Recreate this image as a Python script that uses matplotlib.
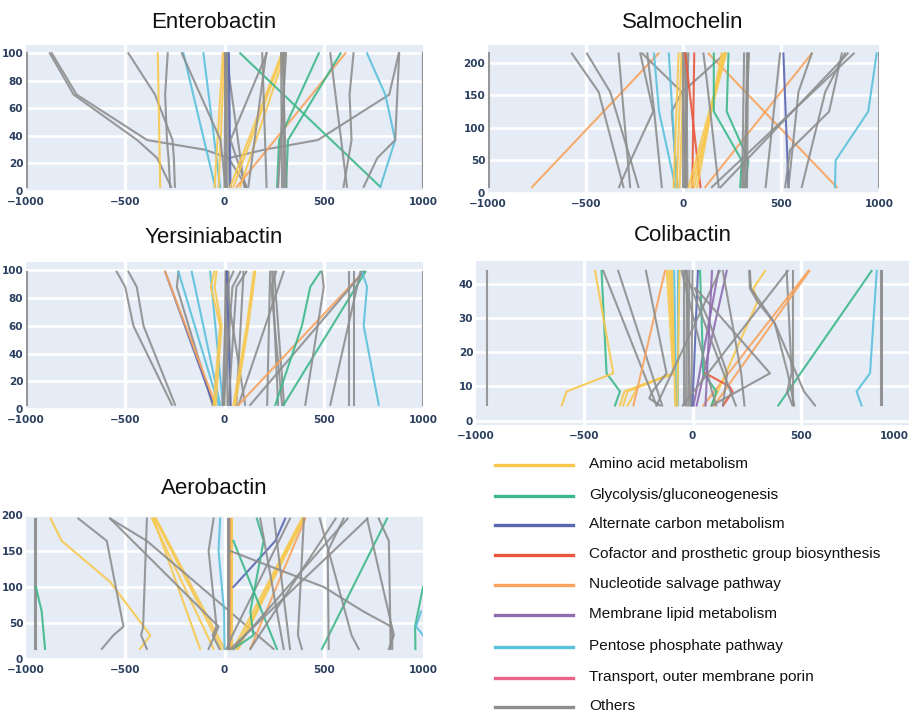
import matplotlib
matplotlib.use("Agg")
import matplotlib.pyplot as plt
from matplotlib.lines import Line2D

W, H = 919, 714

colors = {
    "A": "#F8C84E",  # amino acid
    "G": "#3DB88A",  # glycolysis
    "C": "#5B67B1",  # alternate carbon
    "F": "#EA573D",  # cofactor
    "N": "#F9A45E",  # nucleotide
    "M": "#8F6BB0",  # membrane lipid
    "P": "#5BC1DB",  # pentose phosphate
    "T": "#EB6589",  # transport
    "O": "#8E8E8E",  # others
}
legend_keys = ["A", "G", "C", "F", "N", "M", "P", "T", "O"]
legend_labels = ["Amino acid metabolism", "Glycolysis/gluconeogenesis",
                 "Alternate carbon metabolism", "Cofactor and prosthetic group biosynthesis",
                 "Nucleotide salvage pathway", "Membrane lipid metabolism",
                 "Pentose phosphate pathway", "Transport, outer membrane porin", "Others"]

_ = None

# Enterobactin
ent_y = [3, 24, 30, 37, 70, 100]
ent_cat = ["O", "O", "O", "O", "O", "O", "O", "A", "P", "P", "A", "A", "O", "O", "O", "O", "C",
           "O", "A", "A", "A", "N", "G", "G", "G", "O", "O", "O", "O", "P", "O", "O", "O",
           "O", "O", "O", "O", "O"]
ent_x = [
    [-997, _, _, _, _, -997], [1000, _, _, _, _, 1000],
    [-269, -340, _, -440, -760, -880], [110, 20, -100, -390, -745, -870],
    [_, 25, 200, 470, 830, 878], [-250, -255, _, -262, -350, -484],
    [-274, -282, _, -290, -299, -286], [-324, _, _, _, _, -336],
    [-47, _, _, _, _, -207], [-22, _, _, _, _, -106],
    [-50, _, _, _, _, -8], [-30, _, _, _, _, 0],
    [0, _, _, _, _, 5], [12, _, _, _, _, 10], [25, _, _, _, _, 15], [100, _, _, _, _, 8],
    [30, _, _, _, _, 22], [110, _, _, 30, _, 213],
    [29, _, _, _, _, 289], [79, _, _, _, _, 306], [45, _, _, _, _, 295],
    [62, _, _, _, _, 609], [785, _, _, _, _, 79],
    [265, _, _, 275, _, 475], [310, _, _, 320, _, 585],
    [290, _, _, _, _, 285], [300, _, _, _, _, 300], [312, _, _, _, _, 292], [270, _, _, _, _, 310],
    [785, _, _, 860, 810, 718], [600, _, _, 640, 630, 650], [617, _, _, _, _, 533],
    [701, 770, _, 860, _, 880], [212, _, _, _, _, 190], [5, _, _, -20, _, -215],
    [120, _, _, _, _, 210], [8, _, _, _, _, 2], [1000, _, _, _, 1000, 1000],
]

# Salmochelin
sal_y = [9, 37, 50, 66, 100, 125, 155, 171, 214]
sal_cat = ["O", "O", "N", "N", "N", "O", "O", "O", "O", "O", "O", "O", "P", "P", "A", "A", "A",
           "O", "O", "O", "O", "F", "F", "A", "A", "A", "A", "G", "G", "O", "O", "O", "O", "O",
           "O", "C", "O", "O", "O", "O", "P", "O"]
sal_x = [
    [-997, _, _, _, _, _, _, _, -997], [1000, _, _, _, _, _, _, _, 1000],
    [-775, _, _, _, _, _, _, _, -128], [784, _, _, _, _, _, _, _, 128],
    [111, _, _, _, _, _, _, _, 656],
    [-307, _, _, _, _, _, -434, _, -571], [-230, _, -270, _, _, _, -375, _, -494],
    [-273, _, _, _, _, _, _, _, -332], [-330, _, -270, _, _, -155, _, _, -221],
    [-111, _, _, _, _, -150, _, _, -185], [-30, _, _, _, _, -60, -9, _, -211],
    [15, _, _, _, _, _, -5, _, 213],
    [-41, _, _, _, _, -125, _, _, -151], [-34, _, _, _, _, _, _, _, -75],
    [-51, _, _, _, _, _, _, _, -25], [-35, _, _, _, _, _, _, _, -10], [-20, _, _, _, _, _, _, _, 5],
    [0, _, _, _, _, _, _, _, 0], [10, _, _, _, _, _, _, _, 8], [20, _, _, _, _, _, _, _, 15],
    [5, _, _, _, _, _, _, _, 25],
    [87, _, _, _, _, _, _, _, 9], [45, _, _, _, _, _, _, _, 55],
    [26, _, _, _, _, _, _, _, 213], [40, _, _, _, _, _, _, _, 218],
    [70, _, _, _, _, _, _, _, 195], [55, _, _, _, _, _, _, _, 205],
    [290, _, 298, _, _, 155, _, _, 155], [315, _, 332, _, _, 221, _, _, 230],
    [300, _, _, _, _, _, _, _, 310], [315, _, _, _, _, _, _, _, 325],
    [325, _, _, _, _, _, _, _, 330], [305, _, _, _, _, _, _, _, 335],
    [180, _, _, _, _, _, _, 120, 102],
    [420, _, _, _, _, _, _, _, 494], [537, _, _, _, _, _, _, _, 511],
    [537, _, _, _, _, _, 588, _, 656], [520, _, _, 545, _, 745, _, _, 810],
    [605, _, _, _, _, _, 725, _, 826], [145, _, _, _, _, _, _, _, 871],
    [775, _, 778, _, _, 945, _, _, 988], [190, _, _, _, _, _, _, _, 840],
]

# Yersiniabactin
yer_y = [3, 60, 88, 99]
yer_cat = ["O", "O", "O", "O", "O", "C", "N", "P", "P", "P", "A", "A", "O", "O", "O", "O", "C",
           "O", "O", "A", "A", "O", "O", "O", "O", "O", "N", "O", "G", "G", "P", "O", "O", "O",
           "O", "O", "O"]
yer_x = [
    [-997, _, _, -997], [1000, _, _, 1000],
    [-265, -459, -500, -543], [-249, -408, -442, -484], [-60, _, -240, -232],
    [-55, _, _, -299], [-45, _, _, -299], [-30, _, _, -232], [-22, _, _, -165], [-8, _, _, -72],
    [-55, -22, -69, -52], [-45, -15, -50, -40],
    [0, _, _, 5], [15, _, _, 8], [30, _, _, 20], [-10, _, _, 12], [30, _, _, 12],
    [104, _, 10, 45], [60, _, _, 96],
    [54, 120, _, 155], [45, 112, _, 148],
    [71, _, _, 298], [215, _, _, 230], [300, _, _, 250], [270, _, _, 240], [290, _, 235, 260],
    [71, _, _, 701], [130, _, _, 701],
    [256, 390, 432, 483], [298, _, _, 710], [777, 701, 718, 693],
    [407, _, 500, 491], [625, _, _, 625], [651, _, _, 651], [533, _, _, 685],
    [20, _, 60, 110], [-5, _, 40, 80],
]

# Colibactin
col_y = [4.4, 6.5, 8.5, 10, 13.8, 20, 28.4, 34.7, 38.6, 43.7]
col_cat = ["O", "O", "O", "P", "G", "O", "O", "N", "N", "A", "O", "O", "G", "A", "A", "A", "A",
           "O", "O", "N", "O", "P", "P", "O", "O", "O", "O", "O", "A", "A", "M", "M", "C", "G",
           "F", "O", "O", "O", "O", "O", "O", "M", "O"]
col_x = [
    [-948, _, _, _, _, _, _, _, _, -948], [877, _, _, _, _, _, _, _, _, 877],
    [872, _, _, _, _, _, _, _, _, 872],
    [781, _, 758, _, 820, _, _, _, _, 851], [396, _, _, _, _, _, _, _, _, 827],
    [466, _, _, _, _, _, _, _, _, 466], [462, _, 437, _, 458, _, _, _, _, 435],
    [50, _, _, _, _, _, _, _, _, 535], [100, _, _, _, _, _, _, _, _, 540],
    [88, _, _, _, _, _, _, 300, 281, 335],
    [566, _, 515, _, _, _, 380, _, 270, 265], [470, _, _, _, 440, _, 380, 300, 265, 262],
    [-358, _, -335, _, -397, _, _, _, _, -420],
    [-604, _, -581, _, -366, _, _, _, _, -450],
    [-335, _, -315, _, -89, _, _, _, _, -119],
    [-320, _, -300, _, -85, _, _, _, _, -100],
    [-300, _, _, -250, -80, _, _, _, _, -110],
    [-166, _, _, _, _, _, _, _, _, -412], [-140, _, _, _, _, _, _, _, _, -343],
    [-273, _, _, _, _, _, _, _, _, -127],
    [-150, -200, -185, _, -120, _, _, _, _, -215],
    [-66, _, _, _, _, _, _, _, _, -66], [-75, _, _, _, _, _, _, _, _, -85],
    [-40, _, _, _, _, _, _, _, _, -40], [-30, _, _, _, _, _, _, _, _, -25],
    [-20, _, _, _, _, _, _, _, _, -15], [-10, _, _, _, _, _, _, _, _, -30],
    [-5, _, _, _, _, _, _, _, _, 0],
    [-80, _, _, _, _, _, _, _, _, -95], [-70, _, _, _, _, _, _, _, _, -60],
    [19, _, _, _, _, _, _, _, _, 158], [5, _, _, _, _, _, _, _, _, 120],
    [0, _, _, _, _, _, _, _, _, 25],
    [88, _, 111, _, 50, _, _, _, _, 35],
    [142, _, 185, 170, 60, _, _, _, _, _],
    [90, _, _, _, 358, _, _, _, 15, _],
    [240, _, _, _, 225, _, _, _, _, 140],
    [-166, _, _, _, _, _, _, _, _, 126],
    [140, _, _, _, 160, _, 80, _, 10, _],
    [200, _, _, _, _, _, _, _, _, -35], [110, _, 90, _, _, _, _, _, _, -50],
    [60, _, _, _, _, _, _, _, _, 90], [-45, _, _, _, _, _, _, _, _, 440],
]

# Aerobactin
aer_y = [14, 33, 45, 66, 100, 107, 150, 164, 195]
aer_cat = ["O", "O", "G", "A", "O", "O", "A", "A", "A", "A", "O", "O", "O", "P", "O", "O", "O",
           "O", "N", "A", "A", "N", "A", "A", "O", "C", "G", "G", "G", "O", "O", "O", "O", "G",
           "P", "O", "O", "O", "O", "O", "O", "O"]
aer_x = [
    [-955, _, _, _, _, _, _, _, -955], [-948, _, _, _, _, _, _, _, -948],
    [-904, _, _, -921, -950, _, _, _, _],
    [-425, -374, _, _, _, -576, _, -820, -876],
    [-618, -560, -509, _, _, _, _, -593, -736],
    [-391, -420, -410, _, _, _, _, _, -391],
    [-123, _, _, _, _, _, _, _, -358], [-55, _, _, _, _, _, _, _, -365],
    [-15, _, _, _, _, _, _, _, -350], [0, _, _, _, _, _, _, _, -345],
    [247, _, _, _, _, _, _, -391, -576], [-80, _, -30, _, _, _, _, _, -576],
    [-25, -60, -40, _, _, _, -80, _, -55],
    [0, _, _, -2, _, _, -30, _, -22],
    [20, _, _, _, _, _, _, _, 20], [25, _, _, _, _, _, _, _, 25],
    [30, _, _, _, _, _, _, _, 30], [35, _, _, _, _, _, _, _, 35],
    [32, _, _, _, _, _, _, _, 32], [38, _, _, _, _, _, _, _, 38],
    [45, _, _, _, _, _, _, _, 390], [130, _, _, _, _, _, _, _, 407],
    [70, _, _, _, _, _, _, _, 400], [60, _, _, _, _, _, _, _, 395],
    [10, 40, _, _, _, _, _, _, 330],
    [_, _, _, _, 45, _, _, 256, 306],
    [264, _, _, _, _, _, _, 45, _],
    [45, 146, _, 130, _, _, _, 197, 163],
    [491, _, _, _, _, _, _, _, 819],
    [836, 836, _, _, _, _, _, 828, 777], [828, 853, _, _, _, _, _, _, 718],
    [525, _, _, _, _, _, 520, _, 600],
    [845, 845, 840, 700, 500, _, 30, _, _],
    [962, _, 960, _, 1000, _, _, _, _],
    [_, 1000, 965, 990, _, _, _, _, _],
    [676, 640, _, _, _, _, _, _, 480], [390, 370, _, _, _, _, _, _, 400],
    [298, _, _, _, _, _, _, _, 180], [330, _, _, _, _, _, _, _, 250],
    [130, _, _, _, _, _, _, _, 560], [45, _, _, _, _, _, _, _, 620],
    [30, _, _, _, _, _, _, _, 720],
]

panels = [
    # title, ys, cats, xs, yticks, ylim, (left, right, top, bottom px), title (x, y) px
    ("Enterobactin", ent_y, ent_cat, ent_x, [0, 20, 40, 60, 80, 100], (0, 106),
     (26, 423, 45, 191), (214, 22)),
    ("Salmochelin", sal_y, sal_cat, sal_x, [0, 50, 100, 150, 200], (0, 227),
     (488, 879, 45, 193), (683, 22)),
    ("Yersiniabactin", yer_y, yer_cat, yer_x, [0, 20, 40, 60, 80, 100], (0, 106),
     (26, 423, 262, 409), (214, 238)),
    ("Colibactin", col_y, col_cat, col_x, [0, 10, 20, 30, 40], (-1.3, 46.6),
     (476, 909, 261, 425), (683, 236)),
    ("Aerobactin", aer_y, aer_cat, aer_x, [0, 50, 100, 150, 200], (0, 199),
     (26, 423, 515, 659), (214, 489)),
]

fig = plt.figure(figsize=(W / 100, H / 100), dpi=100)
fig.patch.set_facecolor("white")

for title, ys, cats, xs, yticks, ylim, box, tpos in panels:
    l, r, t, b = box
    ax = fig.add_axes([l / W, 1 - b / H, (r - l) / W, (b - t) / H])
    ax.set_facecolor("#E5ECF6")
    ax.set_xlim(-1000, 1000)
    ax.set_ylim(*ylim)
    for v in [-500, 0, 500]:
        ax.axvline(v, color="white", lw=2.4, zorder=1)
    for v in yticks:
        ax.axhline(v, color="white", lw=1.8, zorder=1)
    for cat, row in zip(cats, xs):
        pts = [(x, y) for x, y in zip(row, ys) if x is not None]
        ax.plot([p[0] for p in pts], [p[1] for p in pts], color=colors[cat],
                lw=1.5, alpha=0.9, solid_joinstyle="round", zorder=2)
    ax.set_xticks([-1000, -500, 0, 500, 1000])
    ax.set_xticklabels(["\u22121000", "\u2212500", "0", "500", "1000"])
    ax.set_yticks(yticks)
    for s in ax.spines.values():
        s.set_visible(False)
    ax.tick_params(length=0, labelsize=7.5, labelcolor="#2a3f5f")
    ax.tick_params(axis="x", pad=4.2)
    ax.tick_params(axis="y", pad=2)
    for lab in ax.get_xticklabels() + ax.get_yticklabels():
        lab.set_fontweight("bold")
    if r > 900:
        ax.get_xticklabels()[-1].set_ha("right")
    fig.text(tpos[0] / W, 1 - tpos[1] / H, title, ha="center", va="center",
             fontsize=16, family="Liberation Sans", color="#111111")

# legend
leg_rows = [465, 496, 525, 555, 585, 615, 647, 678, 707]
for key, label, ypx in zip(legend_keys, legend_labels, leg_rows):
    fig.add_artist(Line2D([495 / W, 573 / W], [1 - ypx / H, 1 - ypx / H],
                          color=colors[key], lw=2.4, transform=fig.transFigure))
    fig.text(589 / W, 1 - (ypx - 1) / H, label, ha="left", va="center",
             fontsize=11.1, family="Liberation Sans", color="#111111")

fig.savefig("out.png", dpi=100)
